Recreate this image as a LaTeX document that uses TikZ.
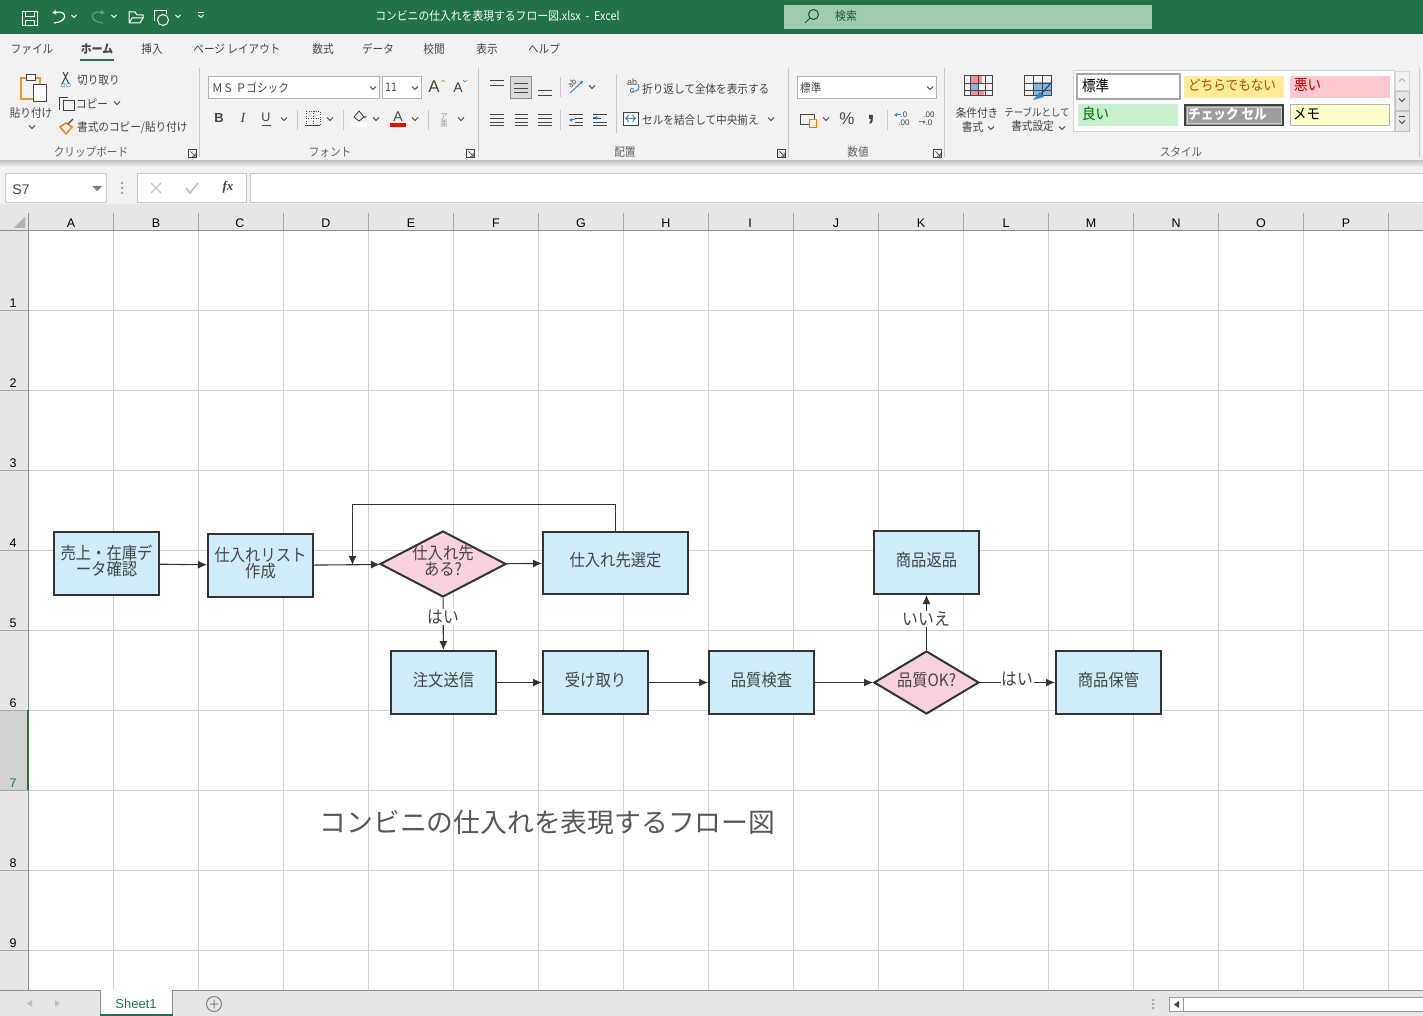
\documentclass[tikz,border=0pt]{standalone}
\usepackage{fontspec}
\usetikzlibrary{arrows.meta,shapes.geometric}
\setmainfont{Noto Sans CJK JP}
\newfontfamily\cjk[FakeStretch=0.9]{Noto Sans CJK JP}
\newfontfamily\hdr{Liberation Sans}
\newfontfamily\srf{Liberation Serif}
\definecolor{xlgreen}{HTML}{217346}
\definecolor{ribbon}{HTML}{F3F2F1}
\definecolor{gridc}{HTML}{D0D0D0}
\definecolor{hdrc}{HTML}{E6E6E6}
\definecolor{boxc}{HTML}{CFECF9}
\definecolor{diac}{HTML}{F9D0DF}
\definecolor{inkc}{HTML}{333333}
\definecolor{uic}{HTML}{444444}
\definecolor{bluec}{HTML}{2B88D8}
\definecolor{orangec}{HTML}{E8800C}
\definecolor{neutc}{HTML}{FFEB9C}
\definecolor{badc}{HTML}{FFC7CE}
\definecolor{goodc}{HTML}{C6EFCE}
\definecolor{memoc}{HTML}{FFFFCC}
\definecolor{searchc}{HTML}{9FCBB0}
\newcommand{\flowtxt}[1]{\smash{\raisebox{-1.5pt}{\makebox[0pt]{\parbox{104pt}{\centering\lineskiplimit=-20pt #1}}}}}
\tikzset{
  flowbox/.style={draw=inkc,line width=2pt,fill=boxc,minimum width=105pt,minimum height=63pt,inner sep=0pt,
    text=uic,font=\cjk\fontsize{17}{16}\selectfont},
  flowdia/.style={flowbox,diamond,fill=diac,aspect=1.9},
  flowarr/.style={draw=inkc,line width=1.1pt,-{Latex[length=9pt,width=8pt]}},
  flowlbl/.style={fill=white,inner sep=1pt,text=uic,font=\cjk\fontsize{17.5}{16}\selectfont},
  uitxt/.style={inner sep=0pt,text=uic,font=\cjk\fontsize{11.8}{12.5}\selectfont,align=center},
  grptxt/.style={uitxt,text=uic!85},
  stytxt/.style={uitxt,anchor=west,font=\cjk\fontsize{15}{15}\selectfont},
  hdrtxt/.style={inner sep=0pt,text=black,font=\hdr\fontsize{12.5}{12.5}\selectfont},
  wbtxt/.style={inner sep=0pt,text=white,font=\cjk\fontsize{12}{12}\selectfont},
  uiline/.style={draw=uic,line width=.9pt},
  sepline/.style={draw=black!22,line width=1pt},
  chev/.pic={\draw[uic,line width=.9pt] (-3,-1.5) -- (0,1.5) -- (3,-1.5);},
  launch/.pic={\draw[uic,line width=.7pt] (-5,-5) rectangle (5,5);\draw[uic,line width=.7pt] (-2,-2) -- (4,4) (4,0) -- (4,4) -- (0,4);}
}
\begin{document}
\begin{tikzpicture}[x=1pt,y=-1pt]
  \useasboundingbox (0,0) rectangle (1423,1016);

  % window parts
  \fill[white] (0,0) rectangle (1423,1016);
  \fill[xlgreen] (0,0) rectangle (1423,34);
  \fill[ribbon] (0,34) rectangle (1423,161);
  \fill[top color=black!22,bottom color=black!5] (0,161) rectangle (1423,167);
  \fill[black!5] (0,167) rectangle (1423,213);
  \fill[hdrc] (0,204) rectangle (1423,230);
  \fill[hdrc] (0,230) rectangle (28,990);
  \fill[black!18] (0,710) rectangle (28,790);
  \fill[hdrc] (0,990) rectangle (1423,1016);

  % grid
  \foreach \x in {113.5,198.5,...,1400} {
    \draw[gridc] (\x,230) -- (\x,990);
    \draw[black!35] (\x,213) -- (\x,230);
  }
  \foreach \y in {310.5,390.5,...,960} {
    \draw[gridc] (28,\y) -- (1423,\y);
    \draw[black!35] (0,\y) -- (28,\y);
  }
  \draw[black!45,line width=1pt] (0,230.5) -- (1423,230.5);
  \draw[black!45,line width=1pt] (28.5,213) -- (28.5,990);
  \draw[black!45,line width=1pt] (0,990.5) -- (1423,990.5);
  \draw[xlgreen,line width=2pt] (28,710) -- (28,790);
  \fill[black!30] (25,217) -- (25,228) -- (14,228) -- cycle;

  % headers
  \foreach \c/\x in {A/71,B/156,C/240,D/326,E/411,F/496,G/581,H/666,I/750,J/836,K/921,L/1006,M/1091,N/1176,O/1261,P/1346}
    \node[hdrtxt] (col\c) at (\x,223) {\c};
  \foreach \r/\y in {1/303,2/383,3/463,4/543,5/623,6/703,8/863,9/943}
    \node[hdrtxt] (row\r) at (13,\y) {\r};
  \node[hdrtxt,text=xlgreen] (row7) at (13,783) {7};

  % title bar
  \draw[white,line width=.9pt] (22,11) rectangle (37,25) (25,11) -- (25,16) -- (34,16) -- (34,11) (25,25) -- (25,20) -- (34,20) -- (34,25);
  \draw[white,line width=1.2pt,-{Latex[length=4pt,width=5pt]}] (54,23) .. controls (68,22) and (68,10) .. (52,13);
  \draw[white!30!xlgreen,line width=1.2pt,-{Latex[length=4pt,width=5pt]}] (103,23) .. controls (89,22) and (89,10) .. (105,13);
  \draw[white,line width=1pt] (129,23) -- (129,12) -- (135,12) -- (137,15) -- (143,15) -- (143,18) (129,23) -- (140,23) -- (143,18) -- (132,18) -- (129,23);
  \draw[white,line width=1pt] (154,21) -- (154,11) -- (166,11) -- (166,14);
  \draw[white,line width=1pt] (163,20) circle [radius=5.5];
  \foreach \x in {74,114,178,201}
    \draw[white,line width=.8pt] (\x-2.5,15) -- (\x,17.5) -- (\x+2.5,15);
  \draw[white,line width=.8pt] (198,12.5) -- (204,12.5);
  \node[wbtxt] (booktitle) at (497.5,15.5) {コンビニの仕入れを表現するフロー図.xlsx\ \ -\ \ Excel};
  \fill[searchc] (784,5) rectangle (1152,29);
  \draw[xlgreen!70!black,line width=1pt] (813.5,14.5) circle [radius=5] (809.5,18.5) -- (805,23);
  \node[wbtxt,text=xlgreen!80!black] (searchbox) at (846,16) {検索};

  % tabs
  \foreach \t/\x in {ファイル/32,挿入/152,ページ レイアウト/237,数式/323,データ/378,校閲/434,表示/487,ヘルプ/544}
    \node[uitxt] (tab\x) at (\x,49) {\t};
  \node[uitxt,font=\cjk\bfseries\fontsize{12}{12}\selectfont] (tabhome) at (97,49) {ホーム};
  \fill[xlgreen] (80,59) rectangle (114,61);

  % group labels
  \node[grptxt] (grpclip) at (91,152) {クリップボード};
  \node[grptxt] (grpfont) at (330,152) {フォント};
  \node[grptxt] (grpalign) at (625,152) {配置};
  \node[grptxt] (grpnum) at (858,152) {数値};
  \node[grptxt] (grpstyle) at (1181,152) {スタイル};
  \foreach \x in {192,470,781,937}
    \pic at (\x,153) [scale=.8] {launch};
  \foreach \x in {199,478,788,944,1419}
    \draw[sepline] (\x,68) -- (\x,157);
  \draw[sepline] (616,74) -- (616,133);
  \foreach \x in {297,343,428,887}
    \draw[sepline] (\x,110) -- (\x,130);
  \draw[sepline] (560,77) -- (560,97) (560,110) -- (560,130);

  % clipboard group
  \fill[ribbon!20!orangec] (20,77) rectangle (41,100);
  \fill[ribbon] (22,79) rectangle (39,98);
  \draw[uic,fill=white] (26,74) rectangle (35,80);
  \draw[uic,fill=white] (33,84) rectangle (46,101);
  \node[uitxt] (paste) at (31,113) {貼り付け};
  \pic at (32,127) {chev};
  \draw[uic,line width=1pt] (62,84) -- (68,72) (69,84) -- (63,72);
  \draw[bluec] (63,85) circle [radius=2] (68.5,85) circle [radius=2];
  \node[uitxt,anchor=west] (cut) at (77,80) {切り取り};
  \draw[uic] (59,110) -- (59,97) -- (68,97) (63,100) rectangle (74,110);
  \node[uitxt,anchor=west] (copy) at (76,104) {コピー};
  \pic at (117,103) {chev};
  \draw[orangec,line width=1.4pt] (60,127) -- (66,134) -- (72,127) -- (66,123) -- cycle;
  \draw[uic,line width=1.4pt] (68,124) -- (73,119);
  \node[uitxt,anchor=west] (brush) at (77,128) {書式のコピー/貼り付け};

  % font group
  \draw[black!30,fill=white] (208.5,76.5) rectangle (379.5,98.5);
  \draw[black!30,fill=white] (382.5,76.5) rectangle (421.5,98.5);
  \node[uitxt,anchor=west] (fontname) at (212,87.5) {ＭＳ Ｐゴシック};
  \node[uitxt,anchor=west] (fontsize) at (385,87.5) {11};
  \pic at (373,88) {chev};
  \pic at (415,88) {chev};
  \node[uitxt,font=\hdr\fontsize{17}{17}\selectfont] (growa) at (434,87) {A};
  \node[uitxt,font=\hdr\fontsize{14}{14}\selectfont] (shrinka) at (458,87.5) {A};
  \draw[orangec,line width=.7pt] (441,82) -- (443,80) -- (445,82);
  \draw[bluec,line width=.7pt] (463,80) -- (465,82) -- (467,80);
  \node[uitxt,font=\hdr\bfseries\fontsize{13}{12}\selectfont] (boldb) at (219,118) {B};
  \node[uitxt,font=\srf\itshape\fontsize{14}{12}\selectfont] (itali) at (243,118) {I};
  \node[uitxt,font=\hdr\fontsize{12.5}{12}\selectfont] (underu) at (266,117.5) {U};
  \draw[uiline] (262,125) -- (271,125);
  \draw[uic,dotted] (306,111) rectangle (320,125) (313,111) -- (313,125) (306,118) -- (320,118);
  \draw[uic,line width=1pt] (305,126) -- (320,126);
  \fill[white] (351,123) rectangle (367,127);
  \draw[uic,line width=.9pt] (354,117) -- (359,111) -- (364,117) -- (359,121) -- cycle;
  \fill[bluec] (365,117) circle [radius=1.5];
  \node[uitxt,font=\hdr\fontsize{14}{14}\selectfont] (fontcola) at (398,117) {A};
  \fill[red] (390,123) rectangle (406,127);
  \node[uitxt,text=black!40,font=\cjk\fontsize{8}{7}\selectfont] (ruby) at (444,120) {ア\\亜};
  \foreach \x in {284,330,376,415,461}
    \pic at (\x,119) {chev};

  % alignment group
  \foreach \x/\d in {497/80,545/90} {
    \draw[uiline] (\x-7,\d) -- (\x+7,\d) (\x-7,\d+5) -- (\x+7,\d+5);
  }
  \draw[black!45,fill=black!15] (510.5,76.5) rectangle (531.5,98.5);
  \draw[uiline] (514,83.5) -- (528,83.5) (514,88) -- (528,88) (514,92.5) -- (528,92.5);
  \foreach \y in {114,118,122,125} {
    \draw[uiline] (490,\y) -- (504,\y);
    \draw[uiline] (515,\y) -- (528,\y);
    \draw[uiline] (538,\y) -- (552,\y);
    \draw[uiline] (569,\y) -- (583,\y);
    \draw[uiline] (593,\y) -- (607,\y);
  }
  \draw[ribbon,line width=1.4pt] (569,118) -- (575,118) (569,122) -- (575,122) (601,118) -- (607,118);
  \draw[bluec,line width=1pt,-{Latex[length=3pt,width=4pt]}] (575,120) -- (569,120);
  \draw[bluec,line width=1pt,-{Latex[length=3pt,width=4pt]}] (593,118) -- (599,118);
  \draw[bluec,line width=1pt,-{Latex[length=3pt,width=4pt]}] (570,93) -- (583,81);
  \node[uitxt,font=\cjk\fontsize{8}{8}\selectfont,rotate=45] (orient) at (572,83) {ab};
  \pic at (592,87) {chev};
  \node[uitxt,font=\hdr\fontsize{9}{8}\selectfont] (wrapab) at (632,86) {ab\\c};
  \draw[bluec,line width=1pt] (638,84) .. controls (641,90) and (636,92) .. (632,91);
  \node[uitxt,anchor=west] (wrap) at (642,89) {折り返して全体を表示する};
  \draw[uic,fill=white] (623,112) rectangle (638,125);
  \draw[bluec,line width=1pt,<->] (625,118.5) -- (636,118.5);
  \node[uitxt,anchor=west] (merge) at (642,120) {セルを結合して中央揃え};
  \pic at (771,119) {chev};

  % number group
  \draw[black!30,fill=white] (797.5,76.5) rectangle (936.5,98.5);
  \node[uitxt,anchor=west] (numfmt) at (800,87.5) {標準};
  \pic at (930,88) {chev};
  \draw[uic] (800,114) rectangle (814,124);
  \draw[orangec,fill=ribbon] (809,119) rectangle (816,127);
  \pic at (826,119) {chev};
  \node[uitxt,font=\hdr\fontsize{17}{17}\selectfont] (percent) at (847,119) {\%};
  \node[uitxt,font=\hdr\bfseries\fontsize{28}{28}\selectfont] (comma) at (871,120) {,};
  \node[uitxt,font=\hdr\fontsize{8}{8}\selectfont] (decup) at (904,119) {.0\\.00};
  \node[uitxt,font=\hdr\fontsize{8}{8}\selectfont] (decdn) at (929,119) {.00\\.0};
  \draw[bluec,line width=1pt,-{Latex[length=3pt,width=4pt]}] (901,115) -- (894,115);
  \draw[bluec,line width=1pt,-{Latex[length=3pt,width=4pt]}] (919,122) -- (926,122);

  % style group
  \fill[red!45] (970,76) rectangle (982,83);
  \fill[bluec!60] (970,83) rectangle (978,90);
  \fill[red!45] (970,90) rectangle (984,96);
  \draw[uic,line width=1pt] (964,76) rectangle (992,96);
  \draw[uic,line width=.6pt] (964,83) -- (992,83) (964,90) -- (992,90) (970,76) -- (970,96) (978,76) -- (978,96) (985,76) -- (985,96);
  \node[uitxt,font=\cjk\fontsize{11.8}{14}\selectfont] (condfmt) at (977,120) {条件付き\\書式\hspace*{9pt}};
  \pic at (991,128) {chev};
  \fill[bluec!60] (1033,82) rectangle (1051,96);
  \draw[uic,line width=1pt] (1024,76) rectangle (1051,96);
  \draw[uic,line width=.6pt] (1024,83) -- (1051,83) (1024,90) -- (1051,90) (1033,76) -- (1033,96) (1042,76) -- (1042,96);
  \draw[uic,line width=1.1pt] (1052,82) -- (1041,94);
  \fill[bluec] (1033,100) -- (1040,92) -- (1044,97) -- cycle;
  \node[uitxt,font=\cjk\fontsize{11.8}{14}\selectfont] (tblfmt) at (1037,120) {{\fontsize{10.5}{14}\selectfont テーブルとして}\\書式設定\hspace*{9pt}};
  \pic at (1062,128) {chev};
  \draw[black!18,fill=white] (1073.5,70.5) rectangle (1394.5,131.5);
  \draw[black!35,line width=1.5pt,fill=white] (1077,74) rectangle (1180,99);
  \node[stytxt,text=black] (stynorm) at (1082,85.5) {標準};
  \fill[neutc] (1184,76) rectangle (1284,98);
  \node[stytxt,text=black!35!orange,font=\cjk\fontsize{14}{14}\selectfont] (styneut) at (1188,85.5) {どちらでもない};
  \fill[badc] (1290,76) rectangle (1390,98);
  \node[stytxt,text=red!70!black] (stybad) at (1294,85.5) {悪い};
  \fill[goodc] (1078,104) rectangle (1178,126);
  \node[stytxt,text=green!40!black] (stygood) at (1082,113.5) {良い};
  \draw[black!75,line width=1.5pt,fill=black!38] (1185,105) rectangle (1283,125.5);
  \draw[white!80!black,line width=.5pt] (1187,107) rectangle (1281,123.5);
  \node[stytxt,text=white,font=\cjk\bfseries\fontsize{14}{14}\selectfont] (stychk) at (1188,114.5) {チェック セル};
  \draw[black!30,fill=memoc] (1290.5,104.5) rectangle (1389.5,125.5);
  \node[stytxt,text=black] (stymemo) at (1293,114.5) {メモ};
  \draw[black!15,fill=ribbon] (1395,71) rectangle (1409,90);
  \draw[black!25,fill=white!90!black] (1395,91) rectangle (1409,110);
  \draw[black!25,fill=white!90!black] (1395,111) rectangle (1409,131);
  \draw[black!30,line width=.9pt] (1399,81.5) -- (1402,78.5) -- (1405,81.5);
  \pic at (1402,100) {chev};
  \pic at (1402,122) {chev};
  \draw[uiline] (1399,116.5) -- (1405,116.5);

  % formula bar
  \draw[black!22,fill=white] (5.5,173.5) rectangle (106.5,202.5);
  \node[hdrtxt,text=uic,font=\hdr\fontsize{14}{14}\selectfont] (namebox) at (21,189.5) {S7};
  \fill[uic!70] (92,186) -- (102,186) -- (97,191) -- cycle;
  \fill[black!35] (121,182) rectangle (123,184) (121,187) rectangle (123,189) (121,192) rectangle (123,194);
  \draw[black!22,fill=white] (137.5,173.5) rectangle (246.5,202.5);
  \draw[black!22,fill=white] (250.5,173.5) rectangle (1424,202.5);
  \draw[black!25,line width=1.2pt] (151,183) -- (161,193) (161,183) -- (151,193);
  \draw[black!25,line width=1.6pt] (186,188) -- (190,193) -- (198,183);
  \node[uitxt,font=\srf\itshape\bfseries\fontsize{13}{13}\selectfont] (fxbtn) at (228,187) {fx};

  % sheet bar
  \draw[black!45,fill=white] (100.5,990.5) -- (100.5,1015) -- (172.5,1015) -- (172.5,990.5);
  \fill[white] (101,989) rectangle (172,992);
  \fill[xlgreen] (100,1013.5) rectangle (173,1016);
  \node[hdrtxt,text=xlgreen,font=\hdr\fontsize{13}{13}\selectfont] (sheetone) at (136,1003.5) {Sheet1};
  \fill[black!25] (32,1000) -- (27,1003.5) -- (32,1007) -- cycle;
  \fill[black!25] (55,1000) -- (60,1003.5) -- (55,1007) -- cycle;
  \draw[black!50,line width=1pt] (214,1004) circle [radius=7.5] (210,1004) -- (218,1004) (214,1000) -- (214,1008);
  \fill[black!35] (1152,999) rectangle (1154,1001) (1152,1003) rectangle (1154,1005) (1152,1007) rectangle (1154,1009);
  \draw[black!40,fill=white] (1169.5,997.5) rectangle (1423.5,1011.5) (1183.5,997.5) -- (1183.5,1011.5);
  \fill[uic] (1179,1001) -- (1174,1004.5) -- (1179,1008) -- cycle;

  % flow
  \node[flowbox] (uri) at (106.5,563.5) {\flowtxt{売上・在庫デ\\ータ確認}};
  \node[flowbox] (lst) at (260.5,565.5) {\flowtxt{仕入れリスト\\作成}};
  \node[flowdia,minimum width=126pt,minimum height=66pt] (sup) at (443,564) {\flowtxt{仕入れ先\\ある?}};
  \node[flowbox,minimum width=145pt,minimum height=62pt] (sel) at (615.5,563) {\flowtxt{仕入れ先選定}};
  \node[flowbox] (ord) at (443.5,682.5) {\flowtxt{注文送信}};
  \node[flowbox] (rcv) at (595.5,682.5) {\flowtxt{受け取り}};
  \node[flowbox] (chk) at (761.5,682.5) {\flowtxt{品質検査}};
  \node[flowdia,minimum width=105pt,minimum height=63pt] (okq) at (926.5,682.5) {\flowtxt{品質OK?}};
  \node[flowbox] (keep) at (1108.5,682.5) {\flowtxt{商品保管}};
  \node[flowbox] (ret) at (926.5,562.5) {\flowtxt{商品返品}};

  \coordinate (fbin) at (352.5,565);
  \coordinate (fbtop) at (352.5,504.5);
  \draw[flowarr] (uri) -- (lst);
  \draw[flowarr] (lst) -- (sup);
  \draw[flowarr] (sup) -- (sel);
  \draw[flowarr] (sel.north) |- (fbtop) -- (fbin);
  \draw[flowarr] (sup) -- node[flowlbl,pos=.36] (lblyesa) {はい} (ord);
  \draw[flowarr] (ord) -- (rcv);
  \draw[flowarr] (rcv) -- (chk);
  \draw[flowarr] (chk) -- (okq);
  \draw[flowarr] (okq) -- node[flowlbl,pos=.5,yshift=3pt] (lblyesb) {はい} (keep);
  \draw[flowarr] (okq) -- node[flowlbl,pos=.56] (lblno) {いいえ} (ret);

  \node[inner sep=0pt,text=uic!90,font=\fontsize{26.8}{26.8}\selectfont] (maintitle) at (547.5,822) {コンビニの仕入れを表現するフロー図};
\end{tikzpicture}
\end{document}
